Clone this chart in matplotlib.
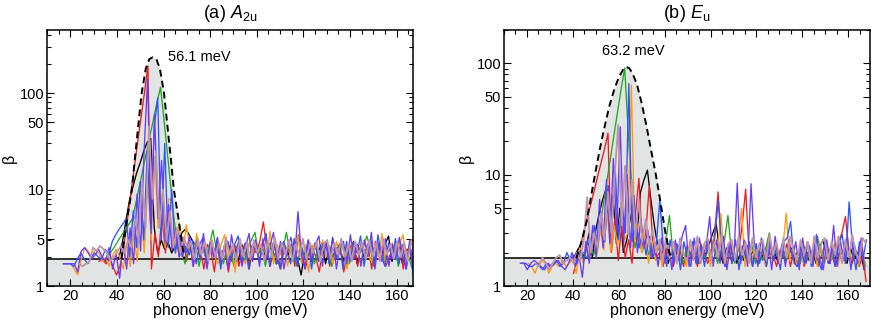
import numpy as np
import matplotlib
matplotlib.use("Agg")
import matplotlib.pyplot as plt
from matplotlib.ticker import FixedLocator, LogLocator, NullFormatter, MultipleLocator

plt.rcParams['font.family'] = ['Liberation Sans', 'DejaVu Sans']
plt.rcParams['mathtext.fontset'] = 'custom'
plt.rcParams['mathtext.rm'] = 'Liberation Sans'
plt.rcParams['mathtext.it'] = 'Liberation Sans:italic'

nan = np.nan

# sampling grid of the spectra (meV)
energy = np.arange(17, 167.1, 1.5)

colors = ['black', '#ee1c1c', '#22a722', '#ff9a14', '#2a55ff', '#6a3cf2', '#bf95a8']

# ---------------- panel (a) A2u ----------------
offs_a = [0.0, 0.3, -0.3, 0.2, 0.0, 0.15, 0.75]

black_a = [nan]*15 + [1.9, 2.0, 3.0, 5.0, 8.0, 11, 15, 19, 25, 31, 34, 4, 2.2, 3.0, 2.4, 2.8, 2.2, 2.6, 3.0, 3.6, 3.9, 3.4, 2.9, 2.6, 2.3] + \
    [2.5, 1.8, 2.8, 2.3, 2.6, 1.7, 2.4, 2.9, 2.2, 2.5, 1.8, 2.7, 2.3, 1.7, 2.6, 2.4, 2.2, 2.8, 1.8, 2.5,
     2.3, 1.7, 2.6, 2.2, 2.4, 1.8, 2.3, 1.9, 1.3, 2.2, 2.7, 1.8, 2.5, 2.3, 2.8, 1.7, 2.6, 2.0, 2.4, 2.7,
     1.8, 2.5, 2.3, 2.9, 1.7, 2.6, 2.0, 2.4, 2.8, 1.8, 2.5, 2.1, 2.7, 3.3, 1.8, 2.2, 2.6, 1.7, 2.3, 2.5, 2.1]
red_a = [nan]*10 + [1.8, 1.9, 1.7, 1.9, 1.6, 1.3, 1.6, 2.5, 4.5, 8.6, 16, 30, 55, 100, 190, 1.5, 3.5, 2.0, 5.5, 2.2, 6.0, 2.4, 4.0, 2.0, 3.2, 1.8] + \
    [2.6, 1.6, 3.0, 2.4, 1.5, 2.7, 2.3, 1.4, 2.8, 2.2, 2.5, 1.4, 2.3, 2.6, 1.6, 2.4, 2.8, 1.5, 2.5, 2.2,
     2.9, 4.6, 2.4, 1.6, 2.6, 2.2, 1.5, 2.5, 2.3, 2.7, 1.6, 3.4, 2.4, 1.5, 2.2, 2.6, 2.0, 1.4, 2.4, 2.8,
     1.6, 2.5, 2.0, 2.7, 1.4, 2.1, 2.6, 2.4, 1.6, 2.8, 2.3, 2.5, 1.5, 2.9, 2.2, 2.6, 1.6, 2.0, 2.5, 2.3,
     2.8, 1.5, 2.4, 2.2, 1.6]
green_a = [nan]*13 + [2.0, 2.3, 2.6, 3.0, 3.4, 3.9, 4.4, 5.0, 7.4, 11, 16.5, 24.5, 36.5, 54, 80, 115, 52, 23, 10, 4.5, 2.5] + \
    [2.3, 1.7, 2.6, 2.2, 2.8, 1.6, 2.4, 2.0, 2.7, 3.8, 2.3, 2.5, 1.7, 2.6, 2.2, 1.6, 2.7, 2.4, 1.8, 2.5,
     3.0, 3.6, 2.2, 2.5, 1.6, 2.8, 2.3, 1.7, 2.6, 2.4, 3.6, 2.2, 2.5, 1.6, 2.8, 2.0, 2.3, 2.6, 1.7, 2.4,
     2.0, 2.7, 2.3, 1.6, 2.5, 2.2, 2.8, 2.4, 1.7, 2.6, 2.3, 2.2, 2.5, 3.3, 2.4, 1.6, 2.6, 2.3, 1.8, 2.5,
     2.2, 2.7, 1.6, 2.4, 2.3, 2.0, 1.5]
orange_a = [nan]*2 + [1.7, 1.5, 1.3, 1.9, 2.5, 2.3, 2.0, 2.4, 2.2, 1.8, 2.0, 1.6, 2.1, 2.4, 2.0, 1.5, 2.8, 1.6, 3.5, 1.8,
                      6.5, 2.2, 12, 3.0, 22, 4.0, 9, 2.5, 8, 7.8, 2.2, 4.5, 2.0, 4.3] + \
    [2.6, 1.8, 3.5, 2.0, 2.8, 1.6, 3.0, 2.1, 1.7, 2.7, 3.4, 1.8, 2.6, 1.4, 2.9, 2.0, 1.7, 2.8, 2.1, 3.0,
     1.8, 2.6, 2.0, 3.7, 1.7, 2.7, 2.1, 2.9, 1.6, 2.6, 2.0, 3.3, 1.7, 2.7, 1.4, 2.5, 2.8, 1.8, 3.0, 2.0,
     2.6, 1.7, 2.9, 2.1, 2.7, 1.5, 2.4, 2.8, 2.2, 1.7, 3.0, 2.1, 1.8, 2.7, 2.0, 3.5, 1.7, 2.6, 2.8, 1.9,
     2.7, 3.4, 1.8, 2.6, 1.7]
blue_a = [1.7, 1.7, 1.7, 1.6, 1.9, 2.2, 1.9, 1.7, 2.0, 2.2, 2.0, 1.9, 2.4, 2.1, 2.9, 3.4, 3.9, 4.4, 5.0, 2.0,
          6.0, 2.5, 12, 3.0, 25, 4, 45, 89, 3.0, 30, 2.5, 10, 2.2, 3.5, 2.0, 2.6] + \
    [2.1, 3.0, 1.7, 2.7, 3.2, 1.6, 2.8, 2.0, 3.1, 1.5, 2.6, 2.9, 1.8, 2.7, 3.3, 1.7, 2.8, 1.5, 2.6, 3.0,
     1.8, 2.7, 3.5, 1.6, 2.8, 2.1, 1.5, 2.9, 2.2, 1.7, 3.1, 1.6, 2.7, 1.9, 3.0, 1.5, 2.8, 1.8, 2.6, 2.9,
     1.7, 3.2, 1.9, 2.7, 1.5, 2.9, 1.8, 2.8, 2.2, 3.3, 1.6, 2.7, 3.0, 1.7, 3.4, 2.0, 1.6, 2.8, 1.9, 3.1,
     1.7, 2.7, 1.5, 2.9, 1.4]
purple_a = [1.7, 1.7, 1.7, 1.7, 1.4, 2.3, 2.5, 2.2, 1.9, 2.1, 2.4, 2.0, 1.8, 2.5, 1.5, 2.2, 1.2, 2.8, 1.5, 4.0,
            1.7, 9, 2.3, 25, 140, 3.5, 60, 5, 20, 2.8, 7, 2.4, 3.8, 2.0, 3.0, 2.2] + \
    [3.3, 1.6, 2.9, 1.9, 3.5, 1.5, 2.8, 2.0, 3.2, 1.7, 2.6, 1.5, 3.4, 2.0, 2.9, 1.6, 2.5, 3.5, 1.8, 2.8,
     1.6, 3.1, 1.9, 2.6, 3.6, 1.7, 2.9, 1.5, 2.5, 3.2, 1.8, 5.9, 2.1, 1.5, 3.0, 1.8, 2.7, 3.3, 1.6, 2.8,
     2.0, 3.1, 1.5, 2.6, 2.9, 1.7, 3.4, 1.9, 2.7, 1.6, 3.0, 2.0, 3.6, 1.5, 2.8, 1.8, 3.1, 1.6, 2.7, 1.9,
     3.2, 2.0, 1.5, 2.9, 1.3]
mauve_a = [nan]*4 + [1.7, 1.6, 1.7, 1.8, 2.5, 2.3, 2.6, 2.4, 2.2, 1.8, 2.0, 2.3, 2.6, 2.2, 3.0, 2.5,
                     5, 3, 12, 4, 45, 8, 25, 4, 10, 3, 6, 2.5, 4, 2.2, 3.2, 2.5] + \
    [2.8, 1.9, 3.1, 2.1, 2.9, 1.8, 3.0, 2.0, 2.8, 1.9, 3.2, 2.1, 2.7, 1.8, 3.1, 2.0, 2.8, 1.9, 3.0, 2.2,
     2.7, 1.8, 2.9, 2.0, 3.2, 1.9, 2.8, 2.1, 3.0, 1.8, 2.7, 2.0, 3.1, 1.9, 2.8, 2.2, 2.9, 1.8, 2.7, 3.0,
     1.9, 2.8, 2.1, 3.1, 2.0, 2.7, 1.8, 2.9, 2.1, 2.8, 1.9, 3.0, 2.0, 2.8, 1.8, 3.1, 2.1, 2.7, 1.9, 2.9,
     2.0, 2.8, 1.8, 3.0, 2.1]

env_a_x = [41.9, 43.1, 44.4, 46.4, 47.6, 48.9, 50.6, 52.4, 53.9, 55.4, 56.9, 58.4, 60.2, 61.9, 63.2, 64.4, 66.4, 67.7, 68.9]
env_a_y = [1.9, 3, 5, 10, 20, 40, 100, 180, 225, 235, 225, 180, 100, 40, 20, 10, 5, 3, 1.9]
base_a = 1.9

# ---------------- panel (b) Eu ----------------
offs_b = [0.0, 0.8, 0.6, 0.5, 0.9, 0.15, 0.75]

black_b = [nan]*14 + [1.8, 1.8, 1.9, 2.2, 1.8, 2.0, 3.0, 1.8, 3.2, 4.5, 6.0, 7.5, 3.0, 6.5, 2.4, 5.0, 2.0, 2.6, 4.0, 5.5,
                      3.0, 7.0, 9.0, 11, 6, 3.5, 2.3] + \
    [1.9, 2.2, 1.6, 2.0, 1.8, 2.3, 1.6, 1.7, 2.1, 1.8, 2.0, 1.6, 2.2, 1.9, 2.4, 3.0, 3.6, 2.0, 1.6, 2.2,
     1.9, 2.1, 1.6, 2.0, 1.7, 2.3, 1.9, 2.1, 1.6, 2.0, 1.7, 2.2, 1.9, 2.0, 1.6, 2.1, 1.7, 1.9, 2.2, 1.6,
     2.0, 1.9, 2.1, 1.7, 2.0, 1.6, 2.2, 2.6, 1.9, 1.6, 2.1, 1.7, 2.0, 1.9, 1.6, 2.2, 1.7, 2.0, 1.9, 1.4]
red_b = [nan]*15 + [1.3, 1.75, 2.3, 3.1, 4.1, 5.4, 7.2, 9.6, 12.8, 17, 23.6, 2.0, 4.0, 1.7, 3.5, 1.8, 2.6, 1.6, 4.5, 9.3,
                    2.2, 3.0, 8.0, 2.5, 1.8] + \
    [2.0, 1.5, 2.2, 1.8, 1.5, 2.1, 1.9, 1.5, 2.3, 1.8, 2.0, 1.5, 2.4, 1.9, 1.6, 2.1, 3.0, 7.0, 2.0, 1.5,
     2.2, 1.6, 1.9, 2.1, 3.5, 7.4, 2.0, 1.5, 2.2, 1.8, 2.0, 1.5, 2.3, 1.9, 1.5, 2.1, 1.8, 2.4, 1.5, 2.0,
     1.9, 2.2, 1.5, 2.0, 1.8, 2.1, 1.5, 1.9, 2.3, 1.6, 2.0, 1.5, 2.5, 3.0, 4.2, 2.0, 1.6, 2.1, 1.5, 1.9, 1.1]
green_b = [nan]*17 + [1.9, 2.0, 1.8, 2.2, 1.9, 2.4, 3.7, 6.0, 9.5, 15, 24, 38, 60, 91, 25, 7, 2.2, 3.0, 2.0, 2.6,
                      1.9, 2.4, 2.0, 2.3, 1.8, 2.6, 4.3, 2.0] + \
    [1.8, 2.1, 1.6, 2.2, 1.9, 2.0, 1.6, 2.3, 1.8, 2.0, 1.9, 2.2, 1.6, 2.1, 2.6, 4.3, 2.0, 1.6, 2.2, 1.7,
     2.0, 1.9, 2.3, 1.6, 2.1, 1.7, 2.2, 3.0, 1.9, 2.0, 1.6, 2.1, 1.7, 2.2, 1.9, 2.0, 1.6, 2.3, 1.7, 2.1,
     1.9, 2.8, 2.0, 1.6, 2.2, 1.7, 2.0, 1.9, 2.1, 1.6, 2.2, 1.7, 2.0, 1.9, 2.1, 1.5]
orange_b = [nan]*2 + [1.6, 1.5, 1.3, 1.6, 1.7, 1.6, 1.3, 1.5, 1.6, 1.5, 1.7, 1.5, 1.6, 1.8, 1.3, 2.2, 1.6, 2.4, 1.8, 2.8,
                      1.9, 3.2, 2.1, 4.5, 2.0, 3.5, 2.3, 5.0, 2.6, 3.0, 64, 2.5, 3.6, 2.0, 2.8] + \
    [1.6, 2.5, 1.7, 2.4, 1.5, 2.6, 1.8, 1.6, 2.4, 1.7, 2.2, 1.5, 2.5, 1.7, 2.3, 1.6, 2.2, 2.4, 1.5, 2.8,
     1.9, 4.5, 1.8, 1.6, 2.4, 1.7, 2.2, 5.0, 1.5, 2.3, 1.7, 2.4, 1.6, 2.2, 1.5, 2.3, 1.7, 2.5, 1.6, 2.2,
     4.5, 1.7, 2.3, 1.5, 2.2, 1.6, 2.4, 1.7, 2.2, 1.5, 2.3, 1.6, 2.2, 1.7, 2.4, 1.5, 2.2, 1.6, 2.3, 1.7,
     2.2, 1.5, 2.4, 1.4]
blue_b = [1.6, 1.6, 1.5, 1.5, 1.6, 1.5, 1.4, 1.6, 1.5, 1.6, 1.7, 1.5, 1.6, 2.0, 1.7, 1.9, 1.6, 2.1, 1.7, 2.6,
          1.9, 3.5, 2.2, 4.5, 2.5, 8.0, 3.0, 12, 2.6, 5.5, 3.0, 66, 2.5, 4.0, 2.2, 3.0, 1.9, 2.8, 1.8, 2.4, 6.0] + \
    [2.2, 1.5, 2.6, 1.6, 2.4, 1.4, 2.5, 1.8, 1.5, 2.7, 1.6, 2.3, 1.5, 2.6, 1.7, 2.8, 5.9, 2.1, 1.5, 2.4,
     1.6, 2.6, 1.4, 2.3, 1.8, 2.5, 1.5, 2.4, 1.6, 2.2, 1.5, 2.6, 1.7, 2.3, 1.4, 2.5, 2.7, 3.8, 1.6, 1.5,
     2.3, 1.6, 2.5, 1.5, 2.4, 1.7, 1.4, 2.6, 1.6, 2.3, 1.5, 2.4, 2.9, 1.6, 5.7, 2.2, 1.4, 2.5, 1.7, 2.6]
purple_b = [1.6, 1.6, 1.4, 1.6, 1.7, 1.6, 1.5, 1.4, 1.6, 1.5, 1.6, 1.7, 1.5, 1.4, 1.6, 2.0, 1.5, 1.9, 1.2, 2.5,
            1.6, 3.5, 1.8, 6.0, 2.2, 9, 2.4, 14, 3.0, 27, 2.5, 10, 2.2, 6.5, 2.0, 4.0, 2.2, 3.2, 1.8] + \
    [2.5, 1.5, 2.7, 1.6, 2.4, 1.4, 2.6, 1.7, 2.8, 3.5, 1.5, 2.5, 1.6, 2.7, 1.8, 2.3, 4.2, 1.5, 2.6, 1.6,
     2.8, 1.4, 2.4, 1.7, 8.4, 1.6, 2.6, 1.5, 8.3, 2.2, 1.5, 2.7, 1.7, 2.5, 1.4, 2.8, 1.6, 2.4, 1.5, 2.6,
     1.8, 2.5, 1.4, 2.7, 1.6, 2.3, 1.5, 2.9, 1.7, 1.4, 2.6, 1.6, 3.5, 1.5, 2.5, 1.7, 2.8, 1.4, 2.4, 1.6,
     2.7, 1.4]
mauve_b = [nan]*4 + [1.6, 1.5, 1.8, 1.6, 1.4, 1.6, 1.8, 1.9, 1.6, 1.7, 1.8, 1.6, 2.0, 1.7, 2.6, 6.3, 2.0, 3.0, 2.2, 4.5,
                     2.6, 7, 3.0, 10, 28, 3.5, 12, 3.0, 9, 2.8, 6, 2.5, 4.0, 2.3, 3.2, 2.0] + \
    [2.6, 1.7, 2.8, 1.8, 2.5, 1.6, 2.7, 1.9, 1.7, 2.6, 1.8, 2.8, 1.6, 2.4, 2.7, 1.7, 2.5, 1.8, 2.9, 1.6,
     2.4, 2.6, 1.7, 2.8, 1.9, 2.5, 1.6, 2.7, 1.8, 2.4, 2.6, 1.7, 2.9, 1.9, 2.5, 1.6, 2.7, 1.8, 2.8, 2.0,
     1.7, 2.6, 1.9, 2.5, 1.6, 2.8, 1.8, 2.4, 2.7, 1.7, 2.5, 1.9, 2.8, 1.6, 2.6, 1.8, 2.9, 2.0, 1.7, 2.7, 2.4]

env_b_x = [41.5, 44, 46, 48, 50, 52, 54, 56, 58, 60, 62, 63.2, 64.5, 66, 68, 70, 72, 74, 76, 78, 80, 82, 83]
env_b_y = [1.78, 2.6, 3.8, 6.5, 11, 18, 28, 42, 58, 75, 89, 93, 91, 82, 64, 44, 28, 17, 10.5, 6, 3.3, 2.0, 1.78]
base_b = 1.78

series_a = [black_a, red_a, green_a, orange_a, blue_a, purple_a, mauve_a]
series_b = [black_b, red_b, green_b, orange_b, blue_b, purple_b, mauve_b]


def draw_panel(ax, series, offs, env_x, env_y, base, xmax, ymax, title, peak_txt, txt_xy, txt_ha, yt, ytl):
    ax.set_yscale('log')
    ax.set_xlim(10, xmax)
    ax.set_ylim(1, ymax)
    gray = '#e2e3e3'
    ax.axhspan(1, base, color=gray, zorder=0, lw=0)
    ax.fill_between(env_x, base, env_y, color=gray, zorder=0, lw=0)
    ax.axhline(base, color='#222222', lw=1.3, zorder=1)
    for y, off, c in zip(series, offs, colors):
        lw = 1.3 if c == colors[-1] else 0.95
        ax.plot(energy + off, y, color=c, lw=lw, zorder=2)
    ax.plot(env_x, env_y, color='black', ls=(0, (3.5, 2.2)), lw=1.4, zorder=3)
    ax.text(txt_xy[0], txt_xy[1], peak_txt, fontsize=10.5, ha=txt_ha, va='center')
    ax.set_title(title, fontsize=13, pad=9)
    ax.set_xlabel('phonon energy (meV)', fontsize=11.5, labelpad=0)
    ax.set_ylabel('β', fontsize=11.5, labelpad=2)
    ax.xaxis.set_major_locator(FixedLocator([20, 40, 60, 80, 100, 120, 140, 160]))
    ax.xaxis.set_minor_locator(MultipleLocator(5))
    ax.yaxis.set_major_locator(FixedLocator(yt))
    ax.set_yticklabels(ytl)
    ax.yaxis.set_minor_locator(LogLocator(base=10, subs=np.arange(2, 10)))
    ax.yaxis.set_minor_formatter(NullFormatter())
    ax.tick_params(which='both', direction='in', top=True, right=True, labelsize=10.5, pad=2)
    ax.tick_params(which='major', length=5, width=0.8)
    ax.tick_params(which='minor', length=3, width=0.8)
    for s in ax.spines.values():
        s.set_linewidth(1.1)


fig = plt.figure(figsize=(8.72, 3.2), dpi=100)
ax_a = fig.add_axes([47/872, 34/320, 366/872, 256/320])
ax_b = fig.add_axes([504/872, 34/320, 366/872, 256/320])

draw_panel(ax_a, series_a, offs_a, env_a_x, env_a_y, base_a, 167, 450,
           r'(a) $A_{\mathrm{2u}}$', '56.1 meV', (62, 235), 'left',
           [1, 3.05, 10, 50, 100], ['1', '5', '10', '50', '100'])
draw_panel(ax_b, series_b, offs_b, env_b_x, env_b_y, base_b, 169.5, 200,
           r'(b) $E_{\mathrm{u}}$', '63.2 meV', (66.5, 130), 'center',
           [1, 5, 10, 50, 100], ['1', '5', '10', '50', '100'])

fig.savefig('out.png', dpi=100)
